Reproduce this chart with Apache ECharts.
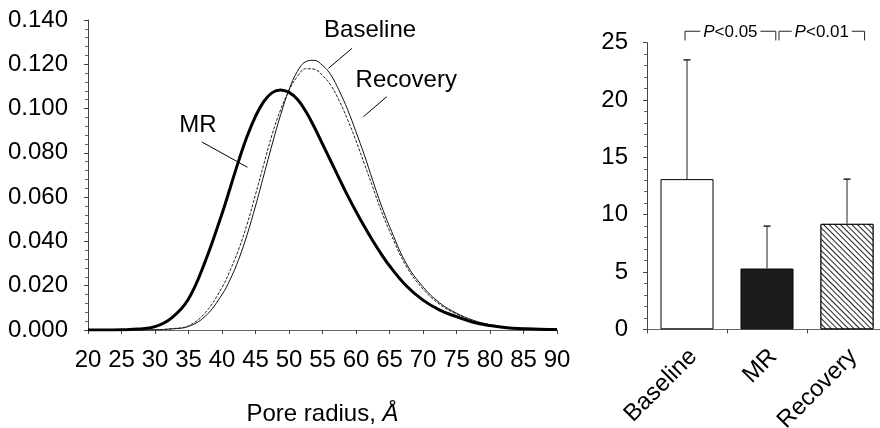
<!DOCTYPE html>
<html>
<head>
<meta charset="utf-8">
<script src="https://cdn.jsdelivr.net/npm/echarts@6/dist/echarts.min.js"></script>
<style>html,body{margin:0;background:#fff}#chart{width:880px;height:428px}</style>
</head>
<body>
<div id="chart"></div>
<script>
// pore radius distribution (left panel)
const radius = [20, 22.5, 25, 27.5, 30, 32.5, 35, 37.5, 40, 41.25, 42.5, 43.75, 45, 46.25, 47.5,
  48.75, 50, 51.25, 52.5, 53.75, 55, 56.25, 57.5, 58.75, 60, 61.25, 62.5, 63.75, 65, 67.5, 70,
  72.5, 75, 77.5, 80, 82.5, 85, 87.5, 90]
const mr = [0, 0, 0.0001, 0.0004, 0.0015, 0.0055, 0.014, 0.031, 0.0525, 0.0645, 0.0765, 0.0875,
  0.0965, 0.1033, 0.1072, 0.1084, 0.1073, 0.1042, 0.0988, 0.0918, 0.084, 0.0762, 0.0684, 0.0607,
  0.0535, 0.0467, 0.0403, 0.0344, 0.029, 0.020, 0.0135, 0.009, 0.006, 0.0035, 0.002, 0.001, 0.0006,
  0.0003, 0.0002]
const baseline = [0, 0, 0, 0, 0.0001, 0.0005, 0.0016, 0.0062, 0.016, 0.023, 0.032, 0.043, 0.056,
  0.070, 0.084, 0.0972, 0.1085, 0.1168, 0.1212, 0.1218, 0.1195, 0.1152, 0.108, 0.0995, 0.0895, 0.079,
  0.0675, 0.0565, 0.0468, 0.030, 0.0195, 0.0122, 0.0076, 0.0044, 0.0024, 0.0012, 0.0006, 0.0003, 0.0001]
const recovery = [0, 0, 0, 0, 0.0001, 0.0006, 0.0019, 0.0078, 0.0192, 0.0272, 0.0365, 0.0478, 0.0612,
  0.075, 0.0885, 0.0995, 0.1082, 0.1145, 0.118, 0.1178, 0.115, 0.1105, 0.1035, 0.095, 0.0855, 0.075,
  0.0645, 0.054, 0.0448, 0.0288, 0.0185, 0.0116, 0.0072, 0.0041, 0.0022, 0.0011, 0.0005, 0.0002, 0.0001]

// bar panel (right)
const barCategories = ['Baseline', 'MR', 'Recovery']
const barMeans = [13.1, 5.3, 9.2]
const barUpper = [23.5, 9.0, 13.1]
const bracketPairs = [[0, 1], [1, 2]]
const bracketText = ['P<0.05', 'P<0.01']

const FONT = '"Liberation Sans", Arial, Helvetica, sans-serif'

// curve labels with pointer lines, in data coords
const notes = [
  { text: 'Baseline', at: [62.1, 0.1355], from: [59.4, 0.1272], to: [55.9, 0.1182] },
  { text: 'Recovery', at: [67.5, 0.1129], from: [64.6, 0.1054], to: [61.1, 0.0963] },
  { text: 'MR', at: [36.4, 0.0926], from: [37.0, 0.0849], to: [43.8, 0.0735] }
]
const bracketInset = [[-0.025, 0.11], [0.15, 0.22]]

const chart = echarts.init(document.getElementById('chart'))

const axisLine = color => ({ show: true, lineStyle: { color, width: 1 } })

chart.setOption({
  animation: false,
  textStyle: { fontFamily: FONT },
  grid: [
    { left: 88, right: 323, top: 20, bottom: 98, outerBoundsMode: 'none' },
    { left: 647, right: -7, top: 42.7, bottom: 98.7, outerBoundsMode: 'none' }
  ],
  xAxis: [
    {
      type: 'value', gridIndex: 0, min: 20, max: 90, interval: 5,
      axisLine: axisLine('#666'),
      axisTick: { show: true, length: 4, lineStyle: { color: '#444' } },
      axisLabel: { color: '#000', fontSize: 24, margin: 18, fontFamily: FONT },
      splitLine: { show: false },
      name: 'Pore radius, {i|Å}',
      nameLocation: 'middle', nameGap: 72,
      nameTextStyle: {
        color: '#000', fontSize: 24, fontFamily: FONT,
        rich: { i: { fontStyle: 'italic', fontSize: 24, fontFamily: FONT } }
      }
    },
    {
      type: 'category', gridIndex: 1, data: barCategories,
      axisLine: axisLine('#666'),
      axisTick: { show: true, length: 4, lineStyle: { color: '#444' } },
      axisLabel: { color: '#000', fontSize: 24, rotate: 45, margin: 30, interval: 0, padding: [0, -9, 0, 0], fontFamily: FONT }
    }
  ],
  yAxis: [
    {
      type: 'value', gridIndex: 0, min: 0, max: 0.14, interval: 0.02,
      axisLine: axisLine('#444'),
      axisTick: { show: true, length: 4, lineStyle: { color: '#444' } },
      minorTick: { show: true, splitNumber: 5, length: 3, lineStyle: { color: '#666' } },
      axisLabel: { color: '#000', fontSize: 24, margin: 20, fontFamily: FONT, formatter: v => v.toFixed(3) },
      splitLine: { show: false }
    },
    {
      type: 'value', gridIndex: 1, min: 0, max: 25, interval: 5,
      axisLine: axisLine('#444'),
      axisTick: { show: true, length: 4, lineStyle: { color: '#444' } },
      minorTick: { show: true, splitNumber: 5, length: 3, lineStyle: { color: '#666' } },
      axisLabel: { color: '#000', fontSize: 24, margin: 19, fontFamily: FONT },
      splitLine: { show: false }
    }
  ],
  series: [
    {
      name: 'Baseline', type: 'line', xAxisIndex: 0, yAxisIndex: 0,
      data: radius.map((r, i) => [r, baseline[i]]),
      smooth: 0.4, showSymbol: false,
      lineStyle: { color: '#111', width: 1 }
    },
    {
      name: 'Recovery', type: 'line', xAxisIndex: 0, yAxisIndex: 0,
      data: radius.map((r, i) => [r, recovery[i]]),
      smooth: 0.4, showSymbol: false,
      lineStyle: { color: '#222', width: 1, type: [3, 1.5] }
    },
    {
      name: 'MR', type: 'line', xAxisIndex: 0, yAxisIndex: 0,
      data: radius.map((r, i) => [r, mr[i]]),
      smooth: 0.4, showSymbol: false,
      lineStyle: { color: '#000', width: 3 }
    },
    {
      type: 'custom', xAxisIndex: 0, yAxisIndex: 0,
      data: notes.map(n => n.at),
      renderItem: (params, api) => {
        const n = notes[params.dataIndex]
        const p = api.coord(n.at)
        const a = api.coord(n.from)
        const b = api.coord(n.to)
        return {
          type: 'group',
          children: [
            { type: 'line', shape: { x1: a[0], y1: a[1], x2: b[0], y2: b[1] }, style: { stroke: '#000', lineWidth: 1 } },
            { type: 'text', x: p[0], y: p[1], style: { text: n.text, fontSize: 24, fontFamily: FONT, fill: '#000', align: 'center', verticalAlign: 'middle' } }
          ]
        }
      }
    },
    {
      type: 'bar', xAxisIndex: 1, yAxisIndex: 1, barWidth: 53,
      data: barMeans.map((v, i) => {
        const styles = [
          { color: '#fff', borderColor: '#000', borderWidth: 1 },
          { color: '#1c1c1c', borderColor: '#000', borderWidth: 1 },
          {
            color: '#fff', borderColor: '#000', borderWidth: 1,
            decal: { symbol: 'rect', symbolSize: 1, dashArrayX: [1, 0], dashArrayY: [1, 2.5], rotation: Math.PI / 4, color: '#222', backgroundColor: '#fff' }
          }
        ]
        return { value: v, itemStyle: styles[i] }
      })
    },
    {
      type: 'custom', xAxisIndex: 1, yAxisIndex: 1, z: 5,
      data: barCategories.map((c, i) => [i, barMeans[i], barUpper[i]]),
      renderItem: (params, api) => {
        const lo = api.coord([api.value(0), api.value(1)])
        const hi = api.coord([api.value(0), api.value(2)])
        return {
          type: 'group',
          children: [
            { type: 'line', shape: { x1: lo[0], y1: lo[1], x2: hi[0], y2: hi[1] }, style: { stroke: '#222', lineWidth: 1 } },
            { type: 'line', shape: { x1: hi[0] - 3.5, y1: hi[1], x2: hi[0] + 3.5, y2: hi[1] }, style: { stroke: '#222', lineWidth: 1.5 } }
          ]
        }
      }
    },
    {
      type: 'custom', xAxisIndex: 1, yAxisIndex: 1, z: 5,
      data: bracketPairs.map(p => [p[0], 26]),
      renderItem: (params, api) => {
        const i = params.dataIndex
        const band = api.size([1, 0])[0]
        const x1 = api.coord([bracketPairs[i][0], 26])[0] + bracketInset[i][0] * band
        const x2 = api.coord([bracketPairs[i][1], 26])[0] + bracketInset[i][1] * band
        const yTop = api.coord([0, 26])[1]
        const yLow = api.coord([0, 25.2])[1]
        const mid = (x1 + x2) / 2
        const gap = 30
        const st = { stroke: '#222', lineWidth: 1, fill: null }
        return {
          type: 'group',
          children: [
            { type: 'polyline', shape: { points: [[x1, yLow], [x1, yTop], [mid - gap, yTop]] }, style: st },
            { type: 'polyline', shape: { points: [[mid + gap, yTop], [x2, yTop], [x2, yLow]] }, style: st },
            {
              type: 'text', x: mid, y: yTop + 1,
              style: {
                text: '{i|P}<' + bracketText[i].split('<')[1],
                fontSize: 17, fontFamily: FONT, fill: '#000', align: 'center', verticalAlign: 'middle',
                rich: { i: { fontStyle: 'italic', fontSize: 17, fontFamily: FONT } }
              }
            }
          ]
        }
      }
    }
  ]
})

window.addEventListener('resize', () => chart.resize())
</script>
</body>
</html>
